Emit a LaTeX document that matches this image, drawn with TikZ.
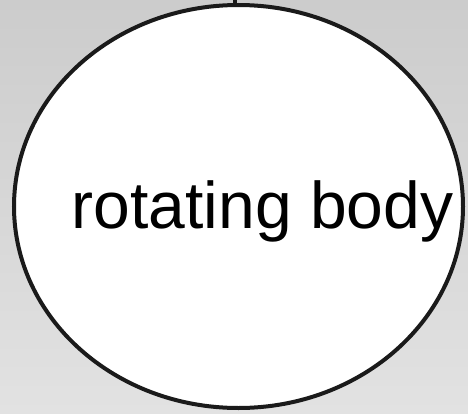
\documentclass[tikz,border=0pt]{standalone}
\usepackage{fontspec}
\setmainfont{Liberation Sans}
\usetikzlibrary{shapes.geometric}
\definecolor{bgtop}{RGB}{204,204,204}
\definecolor{bgbot}{RGB}{226,226,226}
\definecolor{rim}{RGB}{26,26,26}
\begin{document}
\begin{tikzpicture}[
  x=0.75pt, y=-0.75pt,
  body/.style={draw=rim, fill=white, ellipse, line width=3pt, inner sep=0pt,
    minimum width=449*0.75pt, minimum height=403*0.75pt},
  label/.style={font=\fontsize{49.5pt}{56pt}\selectfont, inner sep=0pt}
]
  % Background
  \shade[top color=bgtop, bottom color=bgbot] (0,0) rectangle (468,414);
  \useasboundingbox (0,0) rectangle (468,414);

  % Body
  \node[body] (body) at (238.5,206.5) {};
  \node[label, anchor=base] (name) at (262.5,228) {rotating body};

  % Axis stub
  \coordinate (axis) at (235,-2);
  \draw[rim, line width=3pt] (body.north -| axis) -- (axis);
\end{tikzpicture}
\end{document}
